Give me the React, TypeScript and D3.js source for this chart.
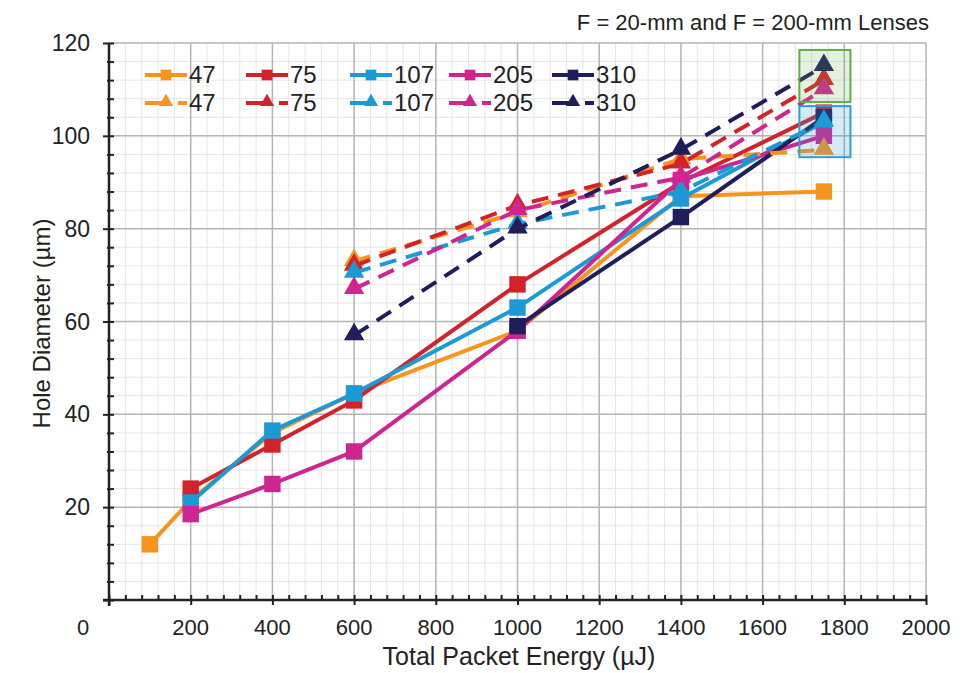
import { useRef, useEffect } from "react";
import * as d3 from "d3";

// solid lines (square markers)
const xSolid47 = [100, 200, 400, 600, 1000, 1400, 1750];
const xSolid = [200, 400, 600, 1000, 1400, 1750];
const xSolid310 = [1000, 1400, 1750];
const solid47 = [12, 21.5, 36, 44.5, 58, 87, 88];
const solid75 = [24, 33.5, 43, 68, 90, 105];
const solid107 = [21, 36.5, 44.5, 63, 86.5, 103];
const solid205 = [18.5, 25, 32, 58, 90.5, 100];
const solid310 = [59, 82.5, 104];

// dashed lines (triangle markers)
const xDashed = [600, 1000, 1400, 1750];
const dashed47 = [73, 83.5, 95, 97];
const dashed75 = [72, 85, 94, 112];
const dashed107 = [70.5, 81, 88, 103];
const dashed205 = [67, 84, 91, 110];
const dashed310 = [57, 80, 97, 115];

const seriesNames = ["47", "75", "107", "205", "310"];
const seriesColors = ["#f7941d", "#d2232a", "#1b9ad6", "#cf2590", "#1f1d5a"];

const xTicks = [200, 400, 600, 800, 1000, 1200, 1400, 1600, 1800, 2000];
const yTicks = [20, 40, 60, 80, 100, 120];

// highlight boxes [x0, x1, y0, y1]
const greenBox = [1690, 1815, 107.3, 118.5];
const blueBox = [1690, 1815, 95.4, 106.4];

const title = "F = 20-mm and F = 200-mm Lenses";
const xTitle = "Total Packet Energy (\u00b5J)";
const yTitle = "Hole Diameter (\u00b5m)";

export default function App() {
  const ref = useRef<SVGSVGElement>(null);
  useEffect(() => {
    if (!ref.current) return;
    const svg = d3.select(ref.current);
    svg.selectAll("*").remove();
    const W = 960, H = 673;
    const font = "'Liberation Sans', Arial, sans-serif";
    svg.attr("width", W).attr("height", H).style("background", "#fff");

    const x = d3.scaleLinear().domain([0, 2000]).range([109, 926]);
    const y = d3.scaleLinear().domain([0, 120]).range([600, 43]);

    // grid
    const grid = svg.append("g");
    grid.selectAll(".vminor").data(d3.range(40, 2000, 40)).join("line")
      .attr("x1", d => x(d)).attr("x2", d => x(d)).attr("y1", y(0)).attr("y2", y(120))
      .attr("stroke", "#e6e6e6").attr("stroke-width", 1);
    grid.selectAll(".hminor").data(d3.range(4, 120, 4)).join("line")
      .attr("class", "hminor")
      .attr("x1", x(0)).attr("x2", x(2000)).attr("y1", d => y(d)).attr("y2", d => y(d))
      .attr("stroke", "#e6e6e6").attr("stroke-width", 1);
    grid.selectAll(".vmajor").data(xTicks).join("line")
      .attr("class", "vmajor")
      .attr("x1", d => x(d)).attr("x2", d => x(d)).attr("y1", y(0)).attr("y2", y(120))
      .attr("stroke", "#b5b5b5").attr("stroke-width", 1.5);
    grid.selectAll(".hmajor").data(yTicks).join("line")
      .attr("class", "hmajor")
      .attr("x1", x(0)).attr("x2", x(2000)).attr("y1", d => y(d)).attr("y2", d => y(d))
      .attr("stroke", "#b5b5b5").attr("stroke-width", 1.5);

    // axes
    const axX = svg.append("g").attr("transform", `translate(0,${y(0)})`)
      .call(d3.axisBottom(x).tickValues(d3.range(0, 2001, 40)).tickSize(0).tickFormat(() => ""));
    axX.select(".domain").remove();
    axX.selectAll(".tick line").attr("y2", d => ((d as number) % 200 === 0 ? 5 : 0)).attr("y1", -5)
      .attr("stroke", "#222").attr("stroke-width", 2);
    svg.append("line").attr("x1", x(0) - 6).attr("x2", x(2000)).attr("y1", y(0)).attr("y2", y(0))
      .attr("stroke", "#222").attr("stroke-width", 2.5);

    const axY = svg.append("g").attr("transform", `translate(${x(0)},0)`)
      .call(d3.axisLeft(y).tickValues(d3.range(0, 121, 4)).tickSize(0).tickFormat(() => ""));
    axY.select(".domain").remove();
    axY.selectAll(".tick line").attr("x1", d => ((d as number) % 20 === 0 ? -6 : -2)).attr("x2", 5)
      .attr("stroke", "#222").attr("stroke-width", 2);
    svg.append("line").attr("x1", x(0)).attr("x2", x(0)).attr("y1", y(0) + 6).attr("y2", y(120))
      .attr("stroke", "#222").attr("stroke-width", 2.5);

    // tick labels
    svg.selectAll(".xlab").data(xTicks).join("text")
      .attr("x", d => x(d)).attr("y", 635).attr("text-anchor", "middle")
      .attr("font-family", font).attr("font-size", 22).attr("fill", "#222").text(d => d);
    svg.append("text").attr("x", x(0) - 26).attr("y", 635).attr("text-anchor", "middle")
      .attr("font-family", font).attr("font-size", 22).attr("fill", "#222").text("0");
    svg.selectAll(".ylab").data(yTicks).join("text")
      .attr("x", 90).attr("y", d => y(d) + 8).attr("text-anchor", "end")
      .attr("font-family", font).attr("font-size", 23).attr("fill", "#222").text(d => d);

    // axis titles
    svg.append("text").attr("x", 519).attr("y", 665).attr("text-anchor", "middle")
      .attr("font-family", font).attr("font-size", 25).attr("fill", "#222").text(xTitle);
    svg.append("text").attr("transform", `translate(50,${(y(0) + y(120)) / 2 + 2}) rotate(-90)`)
      .attr("text-anchor", "middle").attr("font-family", font).attr("font-size", 24)
      .attr("fill", "#222").text(yTitle);
    svg.append("text").attr("x", 929).attr("y", 30).attr("text-anchor", "end")
      .attr("font-family", font).attr("font-size", 22).attr("fill", "#222").text(title);

    const line = d3.line<[number, number]>().x(d => x(d[0])).y(d => y(d[1]));
    const sq = d3.symbol().type(d3.symbolSquare).size(270);
    const tri = d3.symbol().type(d3.symbolTriangle).size(180);

    const solidSets: [number[], number[]][] = [
      [xSolid47, solid47], [xSolid, solid75], [xSolid, solid107], [xSolid, solid205], [xSolid310, solid310],
    ];
    const dashedSets: [number[], number[]][] = [
      [xDashed, dashed47], [xDashed, dashed75], [xDashed, dashed107], [xDashed, dashed205], [xDashed, dashed310],
    ];

    const plot = svg.append("g");
    solidSets.forEach(([xs, ys], i) => {
      const pts = xs.map((v, j) => [v, ys[j]] as [number, number]);
      plot.append("path").attr("d", line(pts)).attr("fill", "none")
        .attr("stroke", seriesColors[i]).attr("stroke-width", 4).attr("stroke-linejoin", "round");
      plot.append("g").selectAll("path").data(pts).join("path")
        .attr("d", sq).attr("transform", d => `translate(${x(d[0])},${y(d[1])})`)
        .attr("fill", seriesColors[i]);
    });
    dashedSets.forEach(([xs, ys], i) => {
      const pts = xs.map((v, j) => [v, ys[j]] as [number, number]);
      plot.append("path").attr("d", line(pts)).attr("fill", "none")
        .attr("stroke", seriesColors[i]).attr("stroke-width", 4).attr("stroke-dasharray", "17 10");
      plot.append("g").selectAll("path").data(pts).join("path")
        .attr("d", tri).attr("transform", d => `translate(${x(d[0])},${y(d[1]) - 1})`)
        .attr("fill", seriesColors[i]);
    });

    // highlight boxes
    [[greenBox, "#5fae47", "rgba(110,175,80,0.18)"], [blueBox, "#2b9fd8", "rgba(43,159,216,0.2)"]]
      .forEach(([b, stroke, fill]) => {
        const bb = b as number[];
        svg.append("rect").attr("x", x(bb[0])).attr("y", y(bb[3]))
          .attr("width", x(bb[1]) - x(bb[0])).attr("height", y(bb[2]) - y(bb[3]))
          .attr("fill", fill as string).attr("stroke", stroke as string).attr("stroke-width", 2);
      });

    // legend
    const colX = [145, 246, 350, 449, 552];
    const rowY = [75, 103];
    const leg = svg.append("g");
    seriesNames.forEach((name, i) => {
      const x0 = colX[i];
      // solid row
      leg.append("line").attr("x1", x0).attr("x2", x0 + 42).attr("y1", rowY[0]).attr("y2", rowY[0])
        .attr("stroke", seriesColors[i]).attr("stroke-width", 4);
      leg.append("path").attr("d", sq).attr("transform", `translate(${x0 + 21},${rowY[0]}) scale(0.65)`)
        .attr("fill", seriesColors[i]);
      leg.append("text").attr("x", x0 + 44).attr("y", rowY[0] + 8)
        .attr("font-family", font).attr("font-size", 24).attr("fill", "#222").text(name);
      // dashed row
      leg.append("line").attr("x1", x0).attr("x2", x0 + 42).attr("y1", rowY[1]).attr("y2", rowY[1])
        .attr("stroke", seriesColors[i]).attr("stroke-width", 4).attr("stroke-dasharray", "22 11 9");
      leg.append("path").attr("d", tri).attr("transform", `translate(${x0 + 21},${rowY[1] - 1}) scale(0.7)`)
        .attr("fill", seriesColors[i]);
      leg.append("text").attr("x", x0 + 44).attr("y", rowY[1] + 8)
        .attr("font-family", font).attr("font-size", 24).attr("fill", "#222").text(name);
    });
  }, []);

  return (
    <div style={{ position: "absolute", left: 0, top: 0 }}>
      <svg ref={ref} />
    </div>
  );
}
